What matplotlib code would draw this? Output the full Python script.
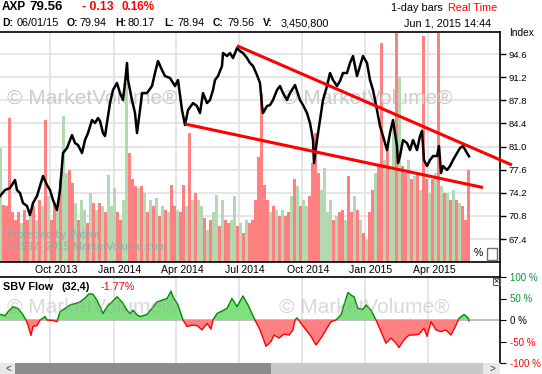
import numpy as np
import matplotlib
matplotlib.use("Agg")
from matplotlib import pyplot as plt
from matplotlib.patches import Rectangle
from matplotlib.lines import Line2D
from matplotlib.transforms import blended_transform_factory

plt.rcParams['font.family'] = ['Liberation Sans', 'DejaVu Sans']

# x axis is trading-day index, day 0 = late Jul 2013
month_day = [50, 114, 176, 239, 302, 365, 428]
month_label = ["Oct 2013", "Jan 2014", "Apr 2014", "Jul 2014", "Oct 2014", "Jan 2015", "Apr 2015"]
price_ticks = [67.4, 70.8, 74.2, 77.6, 81.0, 84.4, 87.8, 91.2, 94.6]

price_day = [0, 5, 10, 15, 17, 20, 23, 27, 30, 33, 37, 40, 43, 47, 50, 53, 57, 60, 63, 67,
             72, 75, 78, 82, 85, 88, 92, 95, 98, 100, 103, 105, 107, 110, 113, 117, 120, 123, 125, 127,
             128, 132, 135, 137, 140, 142, 147, 152, 155, 158, 162, 165, 170, 175, 178, 182, 185, 188, 193, 197,
             200, 203, 207, 210, 213, 215, 218, 222, 223, 227, 230, 233, 237, 240, 243, 247, 250, 253, 257, 260,
             262, 263, 267, 270, 273, 277, 280, 283, 287, 290, 295, 300, 303, 307, 310, 313, 314, 317, 320, 323,
             327, 330, 333, 337, 340, 343, 347, 350, 353, 357, 360, 363, 367, 370, 373, 377, 380, 383, 387, 390,
             393, 397, 398, 400, 403, 407, 410, 413, 417, 420, 422, 424, 427, 430, 433, 437, 439, 441, 443, 447,
             450, 453, 457, 460, 463, 467, 469]
price = [73.72, 74.60, 74.89, 76.07, 74.60, 74.16, 72.69, 72.25, 70.92, 72.69, 73.72, 75.19, 76.66, 75.34, 74.60, 73.13, 71.66, 74.60, 80.04, 80.78,
         82.69, 81.51, 81.22, 80.04, 81.95, 82.98, 84.89, 84.45, 85.19, 84.75, 82.98, 82.54, 84.45, 87.39, 89.31, 90.34, 88.86, 87.84, 90.34, 93.28,
         90.78, 87.84, 85.92, 82.98, 86.36, 88.86, 88.86, 89.89, 91.81, 93.57, 92.25, 91.36, 91.07, 89.89, 90.78, 86.36, 84.16, 86.36, 87.39, 86.95,
         85.92, 88.86, 87.39, 87.84, 89.31, 90.78, 91.36, 92.84, 94.75, 94.31, 94.75, 94.01, 95.48, 95.04, 94.75, 94.01, 93.28, 92.84, 91.51, 90.34,
         86.95, 85.92, 86.95, 87.10, 87.84, 89.31, 89.89, 88.86, 87.84, 88.86, 90.04, 87.84, 87.10, 85.92, 84.45, 81.95, 78.57, 81.95, 84.89, 87.84,
         89.89, 91.81, 90.78, 89.89, 90.63, 91.81, 91.81, 93.28, 94.31, 91.36, 92.84, 94.31, 93.28, 90.78, 89.31, 86.36, 84.01, 82.54, 80.48, 82.98,
         84.89, 81.07, 78.57, 79.60, 81.95, 81.51, 80.48, 81.95, 80.48, 82.54, 83.28, 79.01, 78.13, 79.01, 79.60, 79.60, 81.07, 77.10, 78.13, 77.54,
         78.13, 79.01, 80.04, 80.78, 81.07, 80.04, 79.56]

# volume in millions, one bar every 3 days; r = down day, g = up day
volume = [10.4, 5.2, 5.1, 13.1, 4.5, 3.8, 4.5, 3.5, 4.7, 3.8, 4.3, 5.1, 3.8, 5.6, 5.1, 12.9, 6.0, 3.8, 5.4, 4.7,
          7.5, 13.3, 8.1, 8.4, 7.2, 5.4, 3.8, 5.6, 4.7, 3.5, 6.3, 5.4, 4.7, 5.4,
          5.1, 4.5, 7.9, 5.1, 6.7, 4.5, 3.8, 5.6, 16.3, 9.9, 7.5, 6.9, 6.7, 6.9, 6.3, 4.5, 5.6, 5.1, 5.8, 4.2,
          5.1, 4.7, 4.5, 7.0, 5.1, 4.7, 4.5, 7.0, 5.1, 11.7, 5.6, 6.3, 5.6, 5.1,
          4.0, 2.9, 3.8, 4.5, 6.1, 3.3, 5.6, 3.8, 3.5, 3.8, 6.0, 3.3, 3.5, 2.6, 3.8, 3.5, 3.8, 5.6, 9.5, 15.4,
          7.0, 5.6, 4.5, 5.1, 4.7, 4.2, 4.7, 4.2, 4.5, 6.0, 7.5, 6.9, 5.1, 5.6,
          5.1, 6.0, 9.0, 11.7, 8.1, 6.5, 8.5, 4.5, 5.6, 3.8, 4.2, 4.5, 4.7, 3.8, 7.8, 4.5, 6.0, 4.7, 3.8, 2.6,
          2.0, 4.5, 6.5, 8.1, 8.7, 19.9, 9.3, 10.5, 8.7, 12.7, 20.8, 16.8, 8.7, 8.1,
          9.3, 7.5, 7.8, 8.1, 6.5, 20.5, 7.5, 6.3, 7.5, 8.1, 20.8, 6.9, 6.3, 6.3, 5.6, 6.5, 5.6, 5.4, 5.1, 3.8,
          8.4]
vol_dir = ("grrrrrrgrrgrgrgrgrrgrggrrgrggrgrgr"
           "grgggrrggrrrgrgrgrgrgrgrrgrrgrgrgg"
           "rgrggrgrrggrgrgrrrrrrrgrgrgrrgrgrg"
           "grrrrggggrgrrgrrgrgrgrrgrrgrggrgrr"
           "grgrgrrgrgrgrgrgrgrrr")
vol_day = np.arange(len(volume)) * 3
VOL_TOP = 20.9

upper_day = [237, 512]
upper_val = [95.82, 78.28]
lower_day = [185, 483]
lower_val = [84.31, 74.97]

sbv_day = [0, 5, 8, 13, 18, 23, 26, 28, 31, 33, 37, 40, 43, 45, 47, 53, 57, 60, 65, 70,
           75, 80, 85, 89, 93, 97, 100, 103, 107, 112, 117, 122, 127, 130, 133, 137, 140, 147, 152, 157,
           162, 167, 171, 173, 178, 183, 187, 192, 197, 202, 207, 211, 213, 217, 222, 227, 232, 237, 243, 248,
           255, 260, 266, 271, 274, 279, 284, 289, 293, 295, 297, 301, 306, 311, 316, 321, 326, 331, 336, 341,
           344, 348, 351, 354, 358, 363, 366, 371, 376, 381, 386, 391, 396, 399, 404, 409, 414, 419, 424, 427,
           431, 436, 441, 446, 451, 456, 459, 462, 464, 468, 469]
sbv = [13, 10, 19, 31, 27, 12, 0, -12, -36, -15, -13, 0, 4, 8, 0, -1, -4, 19, 27, 35,
       38, 42, 51, 61, 60, 46, 31, 15, 31, 42, 54, 42, 23, 15, 23, 12, 8, 13, 27, 42,
       46, 50, 67, 54, 35, 0, -15, -12, -13, -23, -8, -21, 0, 15, 21, 27, 50, 31, 56, 35,
       0, -23, -61, -50, -35, -42, -33, -35, -23, 0, 5, -8, -23, -38, -58, -42, -23, -4, 0, 12,
       35, 64, 58, 54, 27, 25, 35, 23, 0, -27, -54, -42, -54, -64, -46, -35, -35, -33, -19, -38,
       -4, -23, -27, -23, -35, -12, 4, 9, 13, 5, -1.77]
sbv_ticks = [-100, -50, 0, 50, 100]
sbv_tick_color = ['red', 'red', 'black', '#009933', '#009933']

W, H = 542, 374


def fx(px):
    return px / W


def fy(py):
    return 1 - py / H


fig = plt.figure(figsize=(W / 100, H / 100), dpi=100)

# ---- price panel
ax = fig.add_axes([0, fy(262), fx(500), 230 / H])
vt = blended_transform_factory(ax.transData, ax.transAxes)
colors = ['#ff8080' if c == 'r' else '#b2d9b2' for c in vol_dir]
ax.bar(vol_day, np.array(volume) / VOL_TOP, width=3.0, color=colors, lw=0, transform=vt, zorder=1)
ax.plot(price_day, price, color='black', lw=1.8, zorder=3)
ax.plot(upper_day, upper_val, color='red', lw=2.2, zorder=4, clip_on=False, solid_capstyle='butt')
ax.plot(lower_day, lower_val, color='red', lw=2.2, zorder=4, clip_on=False, solid_capstyle='butt')
ax.set_xlim(0, 500)
ax.set_ylim(64.02, 97.84)
ax.set_axisbelow(True)
ax.set_xticks(month_day)
ax.set_yticks(price_ticks)
ax.set_yticklabels([f'{t:.1f}' for t in price_ticks])
ax.grid(True, color='#e2e2e2', lw=1.2)
ax.yaxis.tick_right()
ax.tick_params(axis='x', length=0, labelbottom=False)
ax.tick_params(axis='y', length=4, pad=2, labelsize=6.8, width=1)
ax.spines['left'].set_visible(False)
for s in ['top', 'bottom', 'right']:
    ax.spines[s].set_linewidth(1.2)

for x0 in [7, 282]:
    ax.text(fx(x0), fy(98), '© MarketVolume®', transform=fig.transFigure, fontsize=15,
            color='#cccccc', va='center', zorder=2)
ax.text(fx(7), fy(235), 'Protected by Patent', transform=fig.transFigure, fontsize=7.6,
        color='#a0a0a0', va='center', zorder=2)
ax.text(fx(7), fy(247), '©1997- 2015 MarketVolume.com', transform=fig.transFigure, fontsize=7.8,
        color='#a0a0a0', va='center', zorder=2)

dt = blended_transform_factory(ax.transData, fig.transFigure)
for d, lbl in zip(month_day, month_label):
    ax.text(d + 6, fy(270), lbl, transform=dt, ha='center', va='center', fontsize=7.6, clip_on=False)

fig.text(fx(509), fy(33), 'Index', fontsize=7.3, va='center')
fig.text(fx(474), fy(253), '%', fontsize=7.5, va='center')
fig.add_artist(Rectangle((fx(487), fy(260)), 10 / W, 12 / H, transform=fig.transFigure,
                         fill=False, ec='#707070', lw=1))
fig.add_artist(Line2D([fx(500), fx(500)], [fy(262), fy(277)], color='black', lw=1.2))

# ---- SBV flow panel
sx = fig.add_axes([0, fy(363), fx(500), 86 / H])
sbv_arr = np.array(sbv, dtype=float)
sx.fill_between(sbv_day, sbv_arr, 0, where=sbv_arr >= 0, interpolate=True, color='#80e080', lw=0, zorder=2)
sx.fill_between(sbv_day, sbv_arr, 0, where=sbv_arr <= 0, interpolate=True, color='#ff8080', lw=0, zorder=2)
up_line, = sx.plot(sbv_day, sbv_arr, color='#008a00', lw=1, zorder=3)
dn_line, = sx.plot(sbv_day, sbv_arr, color='red', lw=1, zorder=3)
up_line.set_clip_path(Rectangle((0, 0), 500, 100, transform=sx.transData))
dn_line.set_clip_path(Rectangle((0, -100), 500, 100, transform=sx.transData))
sx.axhline(0, color='#b4b4b4', lw=1.2, zorder=1)
sx.set_xlim(0, 500)
sx.set_ylim(-100, 100)
sx.set_axisbelow(True)
sx.set_xticks(month_day)
sx.set_yticks([-50, 50], minor=True)
sx.grid(True, which='major', axis='x', color='#e2e2e2', lw=1.2)
sx.grid(True, which='minor', axis='y', color='#e2e2e2', lw=1.2)
sx.yaxis.tick_right()
sx.set_yticks(sbv_ticks)
sx.set_yticklabels([f'{t} %' for t in sbv_ticks])
for lab, c in zip(sx.get_yticklabels(), sbv_tick_color):
    lab.set_color(c)
sx.tick_params(axis='x', length=0, labelbottom=False)
sx.tick_params(axis='y', which='both', length=4, pad=3, labelsize=7)
sx.tick_params(axis='y', which='minor', length=0)
sx.spines['left'].set_visible(False)
sx.spines['bottom'].set_visible(False)
for s in ['top', 'right']:
    sx.spines[s].set_linewidth(1.2)
for x0 in [7, 279]:
    sx.text(fx(x0), fy(307), '© MarketVolume®', transform=fig.transFigure, fontsize=15,
            color='#a0a0a0', alpha=0.4, va='center', zorder=4)
fig.add_artist(Rectangle((fx(493), fy(285)), 7 / W, 7.5 / H, transform=fig.transFigure,
                         fill=False, ec='#606060', lw=0.8))
fig.text(fx(496.5), fy(281.2), '×', fontsize=6.5, ha='center', va='center')

fig.text(fx(3), fy(287), 'SBV Flow', fontsize=7.8, fontweight='bold', va='center')
fig.text(fx(62), fy(287), '(32,4)', fontsize=7.8, fontweight='bold', va='center')
fig.text(fx(101), fy(287), '-1.77%', fontsize=7.8, color='red', va='center')

# ---- scrollbar
fig.add_artist(Rectangle((0, 0), fx(500), 11 / H, transform=fig.transFigure, color='#c8c8c8', lw=0))
fig.add_artist(Rectangle((fx(15), 0), 256 / W, 11 / H, transform=fig.transFigure, color='#8c8c8c', lw=0))
fig.add_artist(Rectangle((0, 0), fx(15), 11 / H, transform=fig.transFigure, color='#e8e8e8', lw=0))
fig.add_artist(Rectangle((fx(483), 0), 17 / W, 11 / H, transform=fig.transFigure, color='#e8e8e8', lw=0))
fig.text(fx(5), fy(369), '<', fontsize=7, va='center', color='#404040')
fig.text(fx(490), fy(369), '>', fontsize=7, va='center', color='#404040')

# ---- header
fig.text(fx(2), fy(7), 'AXP', fontsize=8.5, fontweight='bold', va='center')
fig.text(fx(29), fy(7), '79.56', fontsize=9.5, fontweight='bold', va='center')
fig.text(fx(82), fy(7), '- 0.13', fontsize=8.8, fontweight='bold', color='red', va='center')
fig.text(fx(122), fy(7), '0.16%', fontsize=8.4, fontweight='bold', color='red', va='center')
head_lbl = ['D:', 'O:', 'H:', 'L:', 'C:', 'V:']
head_lbl_x = [2, 67, 115, 164, 213, 263]
head_val = ['06/01/15', '79.94', '80.17', '78.94', '79.56', '3,450,800']
head_val_x = [17, 80, 128, 178, 227, 281]
for t, x0 in zip(head_lbl, head_lbl_x):
    fig.text(fx(x0), fy(23), t, fontsize=7.5, fontweight='bold', va='center')
for t, x0 in zip(head_val, head_val_x):
    fig.text(fx(x0), fy(23), t, fontsize=7.8, va='center')
fig.text(fx(443), fy(8), '1-day bars', fontsize=7.8, ha='right', va='center')
fig.text(fx(448), fy(8), 'Real Time', fontsize=7.8, color='red', va='center')
fig.text(fx(491), fy(24), 'Jun 1, 2015 14:44', fontsize=7.8, ha='right', va='center')

fig.savefig('out.png', dpi=100)
